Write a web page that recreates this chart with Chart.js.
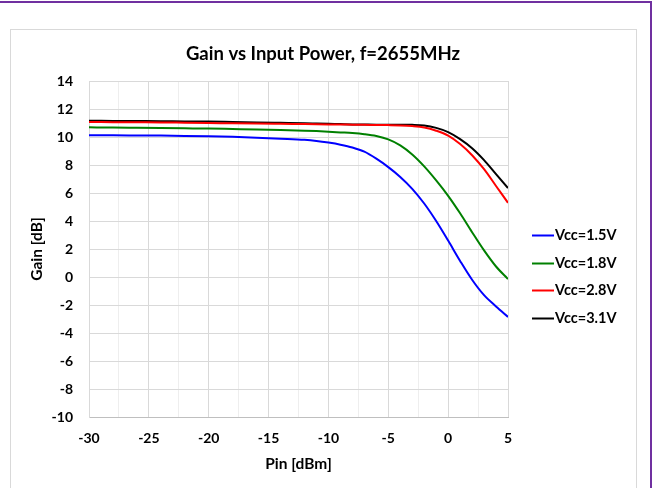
<!DOCTYPE html>
<html><head><meta charset="utf-8">
<script src="https://cdn.jsdelivr.net/npm/chart.js@4.4.1/dist/chart.umd.min.js"></script>
<style>html,body{margin:0;padding:0;background:#fff;overflow:hidden}canvas{display:block}</style>
</head><body>
<canvas id="c" width="655" height="488"></canvas>
<script>
const chartTitle = "Gain vs Input Power, f=2655MHz";
const xTitle = "Pin [dBm]";
const yTitle = "Gain [dB]";
const pin = [-30,-28,-26,-24,-22,-20,-18,-16,-14,-12,-11,-10,-9,-8,-7,-6,-5,-4,-3,-2,-1,0,1,2,3,4,5];
const seriesLabels = ["Vcc=1.5V","Vcc=1.8V","Vcc=2.8V","Vcc=3.1V"];
const seriesColors = ["#0000ff","#008000","#ff0000","#000000"];
const gain15 = [10.12,10.12,10.11,10.10,10.08,10.05,10.01,9.95,9.88,9.80,9.72,9.60,9.45,9.25,8.95,8.45,7.85,7.15,6.30,5.25,4.00,2.60,1.15,-0.20,-1.30,-2.10,-2.85];
const gain18 = [10.69,10.68,10.66,10.64,10.62,10.60,10.57,10.54,10.50,10.45,10.42,10.38,10.33,10.28,10.20,10.07,9.83,9.40,8.75,7.90,6.90,5.80,4.55,3.20,1.90,0.75,-0.15];
const gain28 = [11.07,11.06,11.05,11.04,11.02,11.00,10.98,10.96,10.94,10.92,10.91,10.90,10.89,10.88,10.87,10.86,10.85,10.83,10.78,10.68,10.45,10.10,9.50,8.70,7.70,6.50,5.30];
const gain31 = [11.16,11.15,11.14,11.13,11.11,11.10,11.07,11.04,11.01,10.98,10.96,10.94,10.92,10.90,10.89,10.88,10.88,10.88,10.87,10.82,10.65,10.35,9.85,9.20,8.35,7.35,6.35];
const allGains = [gain15, gain18, gain28, gain31];

const FONT = "Lato, 'Open Sans', sans-serif";

const decor = {
  id: 'decor',
  beforeDraw(chart) {
    const ctx = chart.ctx;
    ctx.save();
    ctx.fillStyle = '#fff';
    ctx.fillRect(0, 0, chart.width, chart.height);
    ctx.strokeStyle = '#d9d9d9';
    ctx.lineWidth = 1;
    ctx.strokeRect(10.5, 29.5, 626, 470);
    ctx.strokeStyle = '#7030a0';
    ctx.lineWidth = 2;
    ctx.beginPath();
    ctx.moveTo(0, 2); ctx.lineTo(651, 2); ctx.lineTo(651, 488);
    ctx.stroke();
    ctx.restore();
  },
  afterDraw(chart) {
    const ctx = chart.ctx;
    const a = chart.chartArea;
    ctx.save();
    ctx.fillStyle = '#000';
    ctx.textAlign = 'center';
    ctx.textBaseline = 'middle';
    ctx.font = "bold 18.5px " + FONT;
    ctx.fillText(chartTitle, 323, 54);
    ctx.font = "bold 15.5px " + FONT;
    ctx.fillText(xTitle, (a.left + a.right) / 2, 464);
    ctx.translate(37, (a.top + a.bottom) / 2);
    ctx.rotate(-Math.PI / 2);
    ctx.fillText(yTitle, 0, 0);
    ctx.restore();
    // legend
    ctx.save();
    ctx.font = "bold 14.5px " + FONT;
    ctx.textBaseline = 'middle';
    ctx.textAlign = 'left';
    chart.data.datasets.forEach((ds, i) => {
      const y = Math.round(235 + i * 27.7) + 0.5;
      ctx.strokeStyle = ds.borderColor;
      ctx.lineWidth = 2;
      ctx.beginPath();
      ctx.moveTo(532, y); ctx.lineTo(554, y);
      ctx.stroke();
      ctx.fillStyle = '#000';
      ctx.fillText(ds.label, 555, y);
    });
    ctx.restore();
  }
};

new Chart(document.getElementById('c'), {
  type: 'line',
  data: {
    datasets: seriesLabels.map((lab, i) => ({
      label: lab,
      data: pin.map((p, j) => ({x: p, y: allGains[i][j]})),
      borderColor: seriesColors[i],
      backgroundColor: seriesColors[i],
      borderWidth: 2,
      pointRadius: 0,
      cubicInterpolationMode: 'monotone',
      fill: false
    }))
  },
  options: {
    responsive: false,
    animation: false,
    devicePixelRatio: 1,
    layout: {padding: {left: 0, top: 81, right: 147, bottom: 0}},
    plugins: {legend: {display: false}, title: {display: false}, tooltip: {enabled: false}},
    scales: {
      x: {
        type: 'linear', min: -30, max: 5,
        afterFit: s => { s.height = 71; },
        ticks: {
          stepSize: 2.5, autoSkip: false, maxRotation: 0, padding: 13,
          color: '#000', font: {family: FONT, size: 14, weight: 'bold'},
          callback: v => (Math.abs(v % 5) < 1e-9 ? String(v) : '')
        },
        grid: {
          drawTicks: false,
          color: c => (c.tick && Math.abs(c.tick.value % 5) < 1e-9) ? '#d9d9d9' : '#eeeeee',
          lineWidth: 1
        },
        border: {color: '#bfbfbf', width: 1}
      },
      y: {
        min: -10, max: 14,
        afterFit: s => { s.width = 89; },
        ticks: {
          stepSize: 2, padding: 16,
          color: '#000', font: {family: FONT, size: 14, weight: 'bold'}
        },
        grid: {drawTicks: false, color: '#d9d9d9', lineWidth: 1},
        border: {color: '#d9d9d9', width: 1}
      }
    }
  },
  plugins: [decor]
});
</script>
</body></html>
